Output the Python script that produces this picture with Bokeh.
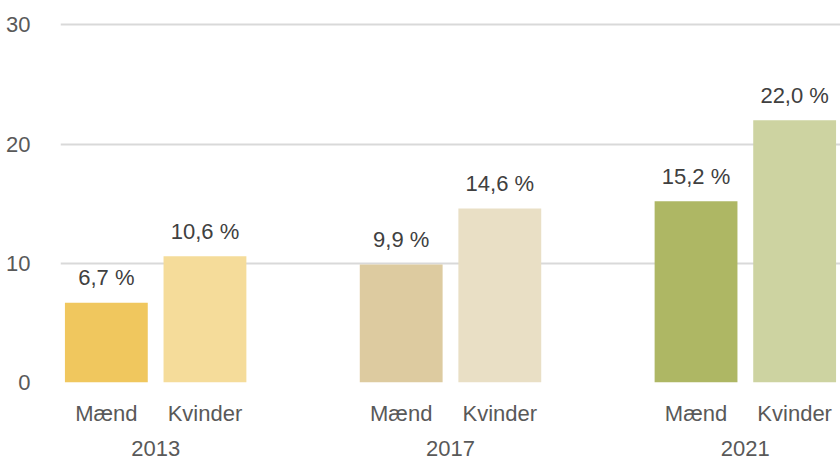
from bokeh.plotting import figure
from bokeh.models import ColumnDataSource, FactorRange, Range1d, FixedTicker
from bokeh.embed import file_html
from bokeh.resources import INLINE

years = ["2013", "2017", "2021"]
sexes = ["Mænd", "Kvinder"]
values = [6.7, 10.6, 9.9, 14.6, 15.2, 22.0]
value_labels = ["6,7 %", "10,6 %", "9,9 %", "14,6 %", "15,2 %", "22,0 %"]
bar_colors = ["#F0C75E", "#F5DC9A", "#DDCBA0", "#E9DFC5", "#AEB764", "#CDD3A1"]
y_ticks = [0, 10, 20, 30]

factors = [(y, s) for y in years for s in sexes]

source = ColumnDataSource(data=dict(
    x=factors, top=values, label=value_labels, color=bar_colors,
))

FONT = "Liberation Sans"
FS = "22px"

p = figure(
    width=840, height=462,
    x_range=FactorRange(*factors, group_padding=0.99, range_padding=-0.035,
                        range_padding_units="absolute"),
    y_range=Range1d(0, 30.2),
    output_backend="svg", toolbar_location=None,
    min_border_left=60, min_border_right=0, min_border_top=22, min_border_bottom=80,
)
p.outline_line_color = None
p.background_fill_color = "white"
p.border_fill_color = "white"

p.vbar(x="x", top="top", width=0.84, source=source, fill_color="color",
       line_color=None)

p.text(x="x", y="top", text="label", source=source, text_align="center",
       text_baseline="middle", y_offset=-25, text_font_size=FS,
       text_color="#404040", text_font={"value": FONT})

p.xgrid.grid_line_color = None
p.ygrid.grid_line_color = "#D9D9D9"
p.ygrid.grid_line_width = 2
p.yaxis.ticker = FixedTicker(ticks=y_ticks)

for ax in (p.xaxis[0], p.yaxis[0]):
    ax.axis_line_color = None
    ax.major_tick_line_color = None
    ax.minor_tick_line_color = None
    ax.major_label_text_font = FONT
    ax.major_label_text_font_size = FS
    ax.major_label_text_color = "#595959"

p.yaxis.major_label_standoff = 24
p.xaxis.major_label_standoff = 12
p.xaxis.group_text_font = FONT
p.xaxis.group_text_font_size = FS
p.xaxis.group_text_color = "#595959"
p.xaxis.group_text_font_style = "normal"
p.xaxis.separator_line_color = None

open("out.html", "w").write(file_html(p, INLINE))
